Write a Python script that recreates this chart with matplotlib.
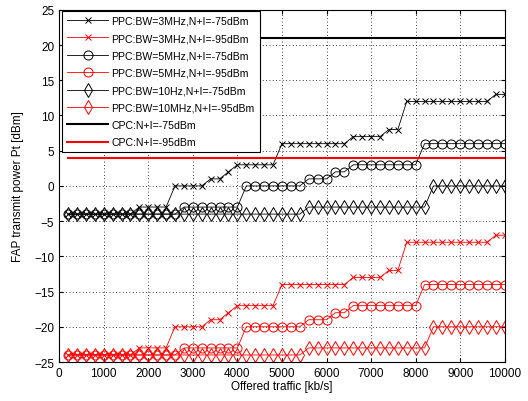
import matplotlib
matplotlib.use("Agg")
import matplotlib.pyplot as plt

plt.rcParams["font.family"] = ["Liberation Sans", "DejaVu Sans"]

# offered traffic [kb/s]
traffic = list(range(200, 10001, 200))

# PPC, BW=3MHz
ppc_3mhz_75 = [-4] * 8 + [-3] * 4 + [0] * 4 + [1] * 2 + [2] + [3] * 5 + [6] * 8 + [7] * 4 + [8] * 2 + [12] * 10 + [13] * 2
ppc_3mhz_95 = [-24] * 8 + [-23] * 4 + [-20] * 4 + [-19] * 2 + [-18] + [-17] * 5 + [-14] * 8 + [-13] * 4 + [-12] * 2 + [-8] * 10 + [-7] * 2

# PPC, BW=5MHz
ppc_5mhz_75 = [-4] * 13 + [-3] * 7 + [0] * 7 + [1] * 3 + [2] * 2 + [3] * 8 + [6] * 10
ppc_5mhz_95 = [-24] * 13 + [-23] * 7 + [-20] * 7 + [-19] * 3 + [-18] * 2 + [-17] * 8 + [-14] * 10

# PPC, BW=10MHz
ppc_10mhz_75 = [-4] * 27 + [-3] * 14 + [0] * 9
ppc_10mhz_95 = [-24] * 27 + [-23] * 14 + [-20] * 9

# CPC (constant power)
cpc_x = [200, 10000]
cpc_75 = [21, 21]
cpc_95 = [4, 4]

fig = plt.figure(figsize=(5.28, 4.02), dpi=100)
ax = fig.add_axes([0.112, 0.097, 0.844, 0.876])

lw = 0.6
ax.plot(traffic, ppc_3mhz_75, color="k", lw=lw, marker="x", ms=4, mew=0.7,
        label="PPC:BW=3MHz,N+I=-75dBm")
ax.plot(traffic, ppc_3mhz_95, color="r", lw=lw, marker="x", ms=4, mew=0.7,
        label="PPC:BW=3MHz,N+I=-95dBm")
ax.plot(traffic, ppc_5mhz_75, color="k", lw=lw, marker="o", ms=6.5, mfc="none", mew=0.7,
        label="PPC:BW=5MHz,N+I=-75dBm")
ax.plot(traffic, ppc_5mhz_95, color="r", lw=lw, marker="o", ms=6.5, mfc="none", mew=0.7,
        label="PPC:BW=5MHz,N+I=-95dBm")
ax.plot(traffic, ppc_10mhz_75, color="k", lw=lw, marker="d", ms=7, mfc="none", mew=0.7,
        label="PPC:BW=10Hz,N+I=-75dBm")
ax.plot(traffic, ppc_10mhz_95, color="r", lw=lw, marker="d", ms=7, mfc="none", mew=0.7,
        label="PPC:BW=10MHz,N+I=-95dBm")
ax.plot(cpc_x, cpc_75, color="k", lw=1.5, label="CPC:N+I=-75dBm")
ax.plot(cpc_x, cpc_95, color="r", lw=1.5, label="CPC:N+I=-95dBm")

ax.set_xlim(0, 10000)
ax.set_ylim(-25, 25)
ax.set_xticks(range(0, 10001, 1000))
ax.set_yticks(range(-25, 26, 5))
ax.tick_params(direction="in", top=True, right=True, labelsize=8.5, length=3)
ax.grid(True, color="k", linestyle=(0, (1, 3)), linewidth=0.6)
ax.set_xlabel("Offered traffic [kb/s]", fontsize=8.5, labelpad=1)
ax.set_ylabel("FAP transmit power Pt [dBm]", fontsize=8.5, labelpad=7)

leg = ax.legend(loc="upper left", fontsize=7.6, fancybox=False, framealpha=1,
                edgecolor="k", borderaxespad=0.1, handlelength=3.9,
                labelspacing=0.7, borderpad=0.45, handletextpad=0.3,
                bbox_to_anchor=(0.005, 1.0))
leg.get_frame().set_linewidth(0.8)

fig.savefig("out.png", dpi=100)
